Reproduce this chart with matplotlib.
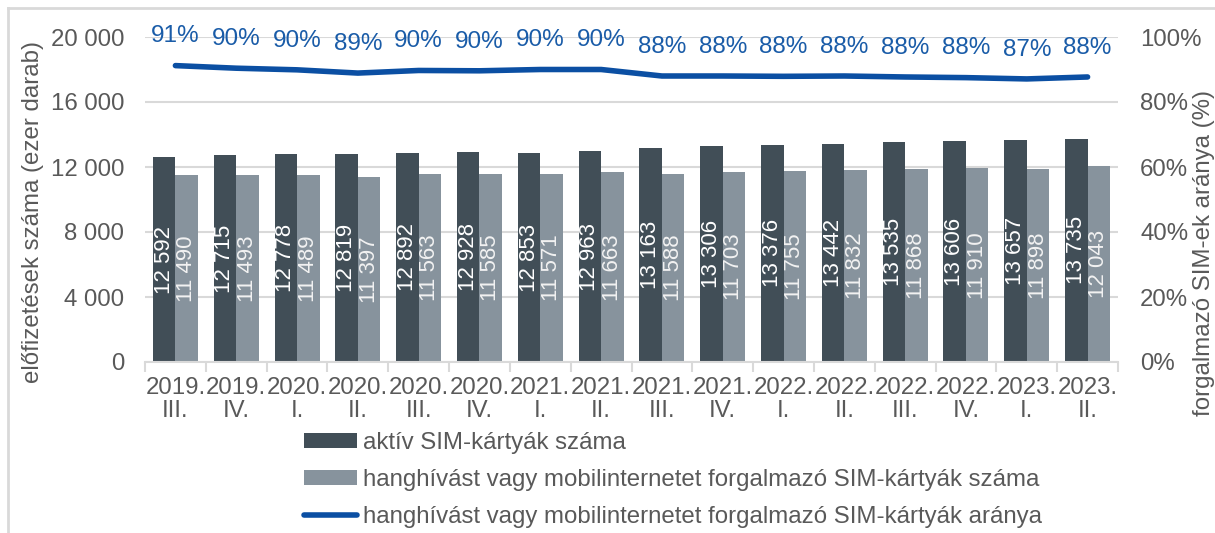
import matplotlib
matplotlib.use("Agg")
import matplotlib.pyplot as plt
from matplotlib.lines import Line2D
import numpy as np

plt.rcParams['font.family'] = ['Liberation Sans', 'DejaVu Sans']

categories = ["2019.\nIII.", "2019.\nIV.", "2020.\nI.", "2020.\nII.", "2020.\nIII.", "2020.\nIV.",
              "2021.\nI.", "2021.\nII.", "2021.\nIII.", "2021.\nIV.", "2022.\nI.", "2022.\nII.",
              "2022.\nIII.", "2022.\nIV.", "2023.\nI.", "2023.\nII."]
active = [12592, 12715, 12778, 12819, 12892, 12928, 12853, 12963, 13163, 13306, 13376, 13442,
          13535, 13606, 13657, 13735]
traffic = [11490, 11493, 11489, 11397, 11563, 11585, 11571, 11663, 11588, 11703, 11755, 11832,
           11868, 11910, 11898, 12043]
ratio = [91.2, 90.4, 89.9, 88.9, 89.7, 89.6, 90.0, 90.0, 88.0, 88.0, 87.9, 88.0,
         87.7, 87.5, 87.1, 87.7]
ratio_labels = ["91%", "90%", "90%", "89%", "90%", "90%", "90%", "90%", "88%", "88%", "88%",
                "88%", "88%", "88%", "87%", "88%"]

dark = "#414E57"
light = "#87939D"
blue = "#0B4FA3"
tick_col = "#595959"
grid_col = "#D9D9D9"
FS = 17.3

W, H = 1215, 533
fig = plt.figure(figsize=(W / 100, H / 100), dpi=100)
ax = fig.add_axes([145 / W, 1 - 362 / H, (1118 - 145) / W, (362 - 37) / H])

x = np.arange(len(categories))
bw = 0.37
b1 = ax.bar(x - bw / 2, active, bw, color=dark, zorder=2, label="aktív SIM-kártyák száma")
b2 = ax.bar(x + bw / 2, traffic, bw, color=light, zorder=2,
            label="hanghívást vagy mobilinternetet forgalmazó SIM-kártyák száma")

def fmt(v):
    return f"{v:,}".replace(",", " ")

for xi, v in zip(x, active):
    ax.text(xi - bw / 2, v / 2, fmt(v), rotation=90, ha="center", va="center",
            color="white", fontsize=16, zorder=3)
for xi, v in zip(x, traffic):
    ax.text(xi + bw / 2, v / 2, fmt(v), rotation=90, ha="center", va="center",
            color="#F2F2F2", fontsize=16, zorder=3)

ax.set_xlim(-0.5, len(categories) - 0.5)
ax.set_ylim(0, 20000)
ax.set_yticks(np.arange(0, 20001, 4000))
ax.set_yticklabels([fmt(v) for v in range(0, 20001, 4000)])
ax.yaxis.grid(True, color=grid_col, linewidth=1.5, zorder=0)
ax.set_axisbelow(True)
for s in ["top", "right", "left"]:
    ax.spines[s].set_visible(False)
ax.spines["bottom"].set_color(grid_col)
ax.spines["bottom"].set_linewidth(1.5)
ax.tick_params(axis="y", length=0, labelsize=FS, labelcolor=tick_col, pad=15)
ax.set_xticks(x)
ax.set_xticklabels(categories, fontsize=FS, color=tick_col, linespacing=1.05)
ax.tick_params(axis="x", which="major", length=0, pad=11)
ax.set_xticks(np.arange(-0.5, len(categories), 1), minor=True)
ax.tick_params(axis="x", which="minor", length=7, width=1.5, color=grid_col)

fig.text(33 / W, 1 - 212 / H, "előfizetések száma (ezer darab)", rotation=90,
         ha="center", va="center", fontsize=FS, color=tick_col)
fig.text(1204 / W, 1 - 253 / H, "forgalmazó SIM-ek aránya (%)", rotation=90,
         ha="center", va="center", fontsize=FS, color=tick_col)

ax2 = ax.twinx()
ax2.set_ylim(0, 100)
ax2.set_yticks(np.arange(0, 101, 20))
ax2.set_yticklabels([f"{v}%" for v in range(0, 101, 20)])
for s in ax2.spines.values():
    s.set_visible(False)
ax2.tick_params(axis="y", length=0, labelsize=FS, labelcolor=tick_col, pad=16)
ln, = ax2.plot(x, ratio, color=blue, linewidth=4, solid_capstyle="round", zorder=4,
               label="hanghívást vagy mobilinternetet forgalmazó SIM-kártyák aránya")
for xi, v, lab in zip(x, ratio, ratio_labels):
    ax2.annotate(lab, (xi, v), xytext=(0, 21), textcoords="offset points", ha="center",
                 va="center", fontsize=17.5, color="#1A5CA8")

handles = [b1, b2, ln]
fig.legend(handles, [h.get_label() for h in handles], loc="upper left",
           bbox_to_anchor=(304 / W, 1 - 432 / H), frameon=False, fontsize=FS,
           labelcolor=tick_col, handlelength=2.2, handleheight=0.55, handletextpad=0.25,
           labelspacing=0.62, borderpad=0, borderaxespad=0)

fig.add_artist(Line2D([8 / W, 1], [1 - 8 / H, 1 - 8 / H], transform=fig.transFigure,
                      color="#D9D9D9", linewidth=2))
fig.add_artist(Line2D([8 / W, 8 / W], [0, 1 - 8 / H], transform=fig.transFigure,
                      color="#D9D9D9", linewidth=2))

fig.savefig("out.png", dpi=100)
